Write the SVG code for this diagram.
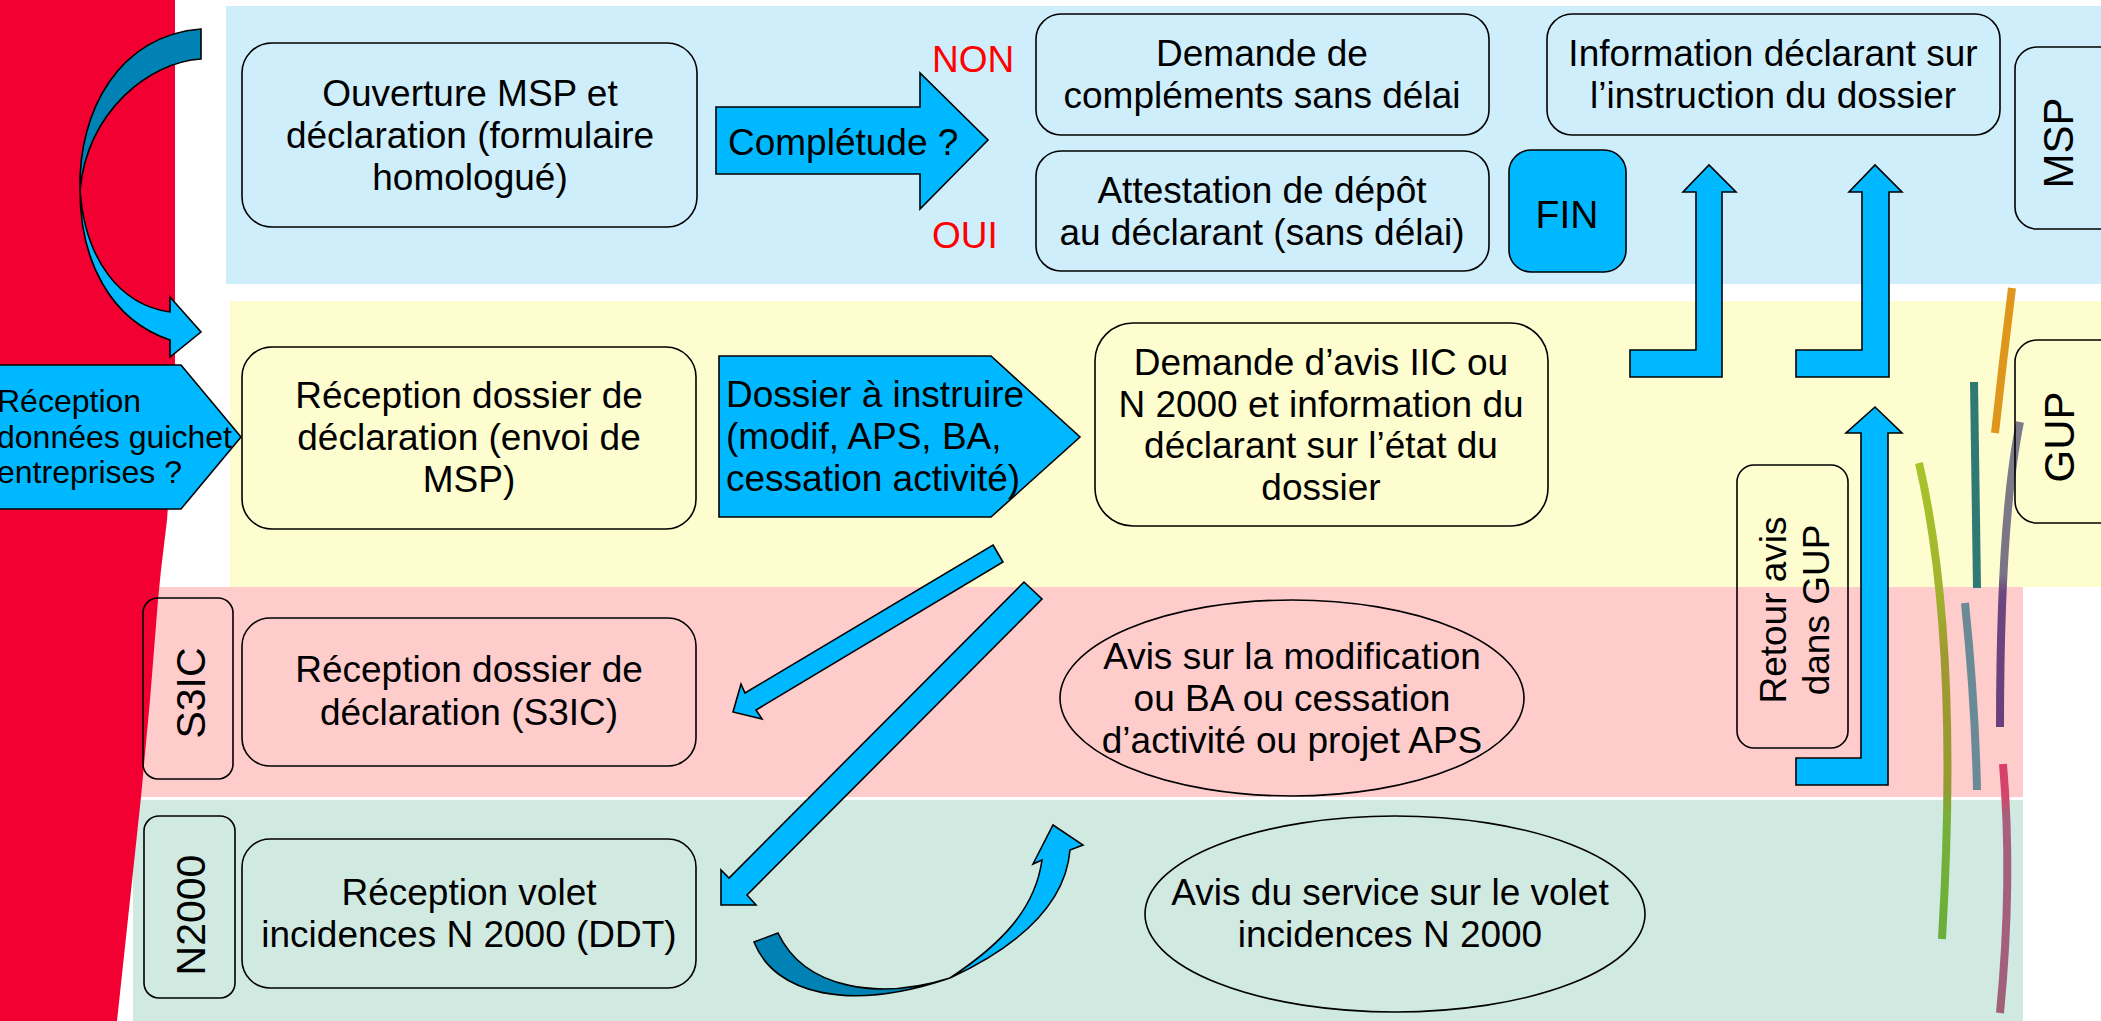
<svg xmlns="http://www.w3.org/2000/svg" width="2101" height="1021" viewBox="0 0 2101 1021">
<defs>
<style>
.box{fill:none;stroke:#000;stroke-width:1.6}
.t{font-family:"Liberation Sans",Arial,sans-serif;font-size:37px;fill:#000}
.lab{font-size:41px}
.lab2{font-size:42px}
.sm{font-size:32px}
.big{font-size:39px}
.c{text-anchor:middle}
.red{fill:#ff0000}
.arr{fill:#00b8ff;stroke:#000;stroke-width:1.6;stroke-linejoin:miter}
.dark{fill:#0083b4;stroke:#000;stroke-width:1.6}
.deco{fill:none;stroke-width:8;stroke-linecap:butt}
</style>
<linearGradient id="gOlive" gradientUnits="userSpaceOnUse" x1="0" y1="463" x2="0" y2="939">
<stop offset="0" stop-color="#a8c42a"/><stop offset="0.25" stop-color="#a3b52d"/><stop offset="0.4" stop-color="#9f9a30"/><stop offset="0.68" stop-color="#979a32"/><stop offset="0.74" stop-color="#78b038"/><stop offset="1" stop-color="#6aae3a"/>
</linearGradient>
<linearGradient id="gPurple" gradientUnits="userSpaceOnUse" x1="0" y1="422" x2="0" y2="727">
<stop offset="0" stop-color="#7e7c8a"/><stop offset="0.5" stop-color="#7a7486"/><stop offset="0.56" stop-color="#6c4680"/><stop offset="1" stop-color="#6a3e7c"/>
</linearGradient>
<linearGradient id="gRose" gradientUnits="userSpaceOnUse" x1="0" y1="764" x2="0" y2="1013">
<stop offset="0" stop-color="#d83d68"/><stop offset="0.14" stop-color="#d0486e"/><stop offset="0.2" stop-color="#a8607c"/><stop offset="1" stop-color="#a0607a"/>
</linearGradient>
</defs>

<rect x="0" y="0" width="2101" height="1021" fill="#ffffff"/>

<!-- swimlane bands -->
<g id="bands">
<rect x="226" y="6" width="1875" height="278" fill="#cfeefc"/>
<rect x="230" y="301" width="1871" height="286" fill="#fdfdcf"/>
<rect x="120" y="587" width="1903" height="210" fill="#ffcccc"/>
<rect x="133" y="800" width="1890" height="221" fill="#d0eae2"/>
</g>

<!-- red side shape -->
<path id="redside" d="M0,0 L175,0 L175,370 L172,450 L167,520 L161,570 L158,600 L150,700 L141,797 L130,900 L117,1021 L0,1021 Z" fill="#f20032"/>

<!-- decorative coloured lines -->
<g id="decor">
<path class="deco" d="M2012,288 Q2003,360 1995,433" stroke="#df961c"/>
<path class="deco" d="M1974,382 L1977,588" stroke="#2f7a72"/>
<path class="deco" d="M2020,422 Q2000,520 2000,727" stroke="url(#gPurple)"/>
<path class="deco" d="M1919,463 Q1960,640 1942,939" stroke="url(#gOlive)"/>
<path class="deco" d="M1965,603 Q1975,700 1977,790" stroke="#6a8a96"/>
<path class="deco" d="M2003,764 Q2013,880 2000,1013" stroke="url(#gRose)"/>
</g>

<!-- connectors -->
<g id="connectors">
<path class="dark" d="M201,29 L201,59 C150,62 88,110 80,190 C78,110 120,35 201,29 Z"/>
<path class="arr" d="M80,190 C80,260 110,320 170,340 L170,357 L201,332 L170,297 L170,312 C120,305 85,260 80,190 Z"/>
<polygon class="arr" points="716,107 920,107 920,73 988,140 920,209 920,174 716,174"/>
<polygon class="arr" points="1630,350 1696,350 1696,192 1683,192 1709,165 1736,192 1722,192 1722,377 1630,377"/>
<polygon class="arr" points="1796,350 1862,350 1862,192 1849,192 1875,165 1902,192 1889,192 1889,377 1796,377"/>
<polygon class="arr" points="1796,758 1861,758 1861,433 1846,433 1875,407 1902,433 1888,433 1888,785 1796,785"/>
<polygon class="arr" points="993,545 1003,562 756,710 762,719 733,712 741,684 745,693"/>
<polygon class="arr" points="1024,582 1042,599 747,895 756,905 721,905 721,870 729,878"/>
<path class="dark" d="M754,942 C775,995 850,1012 950,978 C880,1000 805,990 778,933 Z"/>
<path class="arr" d="M950,978 C1010,950 1065,910 1070,850 L1083,845 L1053,825 L1033,864 L1042,860 C1035,910 1000,945 950,978 Z"/>
</g>

<!-- nodes -->
<g id="n-ouverture">
<rect class="box" x="242" y="43" width="455" height="184" rx="30"/>
<text class="t c" x="470" y="106">Ouverture MSP et</text>
<text class="t c" x="470" y="148">déclaration (formulaire</text>
<text class="t c" x="470" y="190">homologué)</text>
</g>
<g id="n-completude">
<text class="t" x="728" y="155">Complétude ?</text>
<text class="t red" x="932" y="72">NON</text>
<text class="t red" x="932" y="248">OUI</text>
</g>
<g id="n-demande-complements">
<rect class="box" x="1036" y="14" width="453" height="121" rx="25"/>
<text class="t c" x="1262" y="66">Demande de</text>
<text class="t c" x="1262" y="108">compléments sans délai</text>
</g>
<g id="n-attestation">
<rect class="box" x="1036" y="151" width="453" height="120" rx="25"/>
<text class="t c" x="1262" y="203">Attestation de dépôt</text>
<text class="t c" x="1262" y="245">au déclarant (sans délai)</text>
</g>
<g id="n-fin">
<rect x="1509" y="150" width="117" height="122" rx="22" fill="#00b8ff" stroke="#000" stroke-width="1.6"/>
<text class="t big c" x="1567" y="228">FIN</text>
</g>
<g id="n-information">
<rect class="box" x="1547" y="14" width="453" height="121" rx="25"/>
<text class="t c" x="1773" y="66">Information déclarant sur</text>
<text class="t c" x="1773" y="108">l’instruction du dossier</text>
</g>
<g id="lane-msp">
<rect class="box" x="2015" y="47" width="120" height="182" rx="22"/>
<text class="t lab2 c" transform="translate(2073,143) rotate(-90)">MSP</text>
</g>
<g id="lane-gup">
<rect class="box" x="2015" y="340" width="120" height="183" rx="22"/>
<text class="t lab2 c" transform="translate(2074,437) rotate(-90)">GUP</text>
</g>
<g id="n-guichet">
<polygon class="arr" points="-2,365 181,365 241,437 181,509 -2,509"/>
<text class="t sm" x="-3" y="412">Réception</text>
<text class="t sm" x="-3" y="448">données guichet</text>
<text class="t sm" x="-3" y="483">entreprises ?</text>
</g>
<g id="n-reception-envoi">
<rect class="box" x="242" y="347" width="454" height="182" rx="30"/>
<text class="t c" x="469" y="408">Réception dossier de</text>
<text class="t c" x="469" y="450">déclaration (envoi de</text>
<text class="t c" x="469" y="492">MSP)</text>
</g>
<g id="n-dossier-instruire">
<polygon class="arr" points="719,356 991,356 1080,437 991,517 719,517"/>
<text class="t" x="726" y="407">Dossier à instruire</text>
<text class="t" x="726" y="449">(modif, APS, BA,</text>
<text class="t" x="726" y="491">cessation activité)</text>
</g>
<g id="n-demande-avis">
<rect class="box" x="1095" y="323" width="453" height="203" rx="38"/>
<text class="t c" x="1321" y="375">Demande d’avis IIC ou</text>
<text class="t c" x="1321" y="417">N 2000 et information du</text>
<text class="t c" x="1321" y="458">déclarant sur l’état du</text>
<text class="t c" x="1321" y="500">dossier</text>
</g>
<g id="n-retour">
<rect class="box" x="1737" y="465" width="111" height="283" rx="17"/>
<text class="t c" transform="translate(1786,610) rotate(-90)">Retour avis</text>
<text class="t c" transform="translate(1829,610) rotate(-90)">dans GUP</text>
</g>
<g id="lane-s3ic">
<rect class="box" x="143" y="598" width="90" height="181" rx="15"/>
<text class="t lab c" transform="translate(205,693) rotate(-90)">S3IC</text>
</g>
<g id="n-reception-s3ic">
<rect class="box" x="242" y="618" width="454" height="148" rx="28"/>
<text class="t c" x="469" y="682">Réception dossier de</text>
<text class="t c" x="469" y="725">déclaration (S3IC)</text>
</g>
<g id="n-avis-modif">
<ellipse class="box" cx="1292" cy="698" rx="232" ry="98"/>
<text class="t c" x="1292" y="669">Avis sur la modification</text>
<text class="t c" x="1292" y="711">ou BA ou cessation</text>
<text class="t c" x="1292" y="753">d’activité ou projet APS</text>
</g>
<g id="lane-n2000">
<rect class="box" x="144" y="816" width="91" height="182" rx="15"/>
<text class="t lab c" transform="translate(205,915) rotate(-90)">N2000</text>
</g>
<g id="n-reception-volet">
<rect class="box" x="242" y="839" width="454" height="149" rx="28"/>
<text class="t c" x="469" y="905">Réception volet</text>
<text class="t c" x="469" y="947">incidences N 2000 (DDT)</text>
</g>
<g id="n-avis-service">
<ellipse class="box" cx="1395" cy="914" rx="250" ry="98"/>
<text class="t c" x="1390" y="905">Avis du service sur le volet</text>
<text class="t c" x="1390" y="947">incidences N 2000</text>
</g>
</svg>
